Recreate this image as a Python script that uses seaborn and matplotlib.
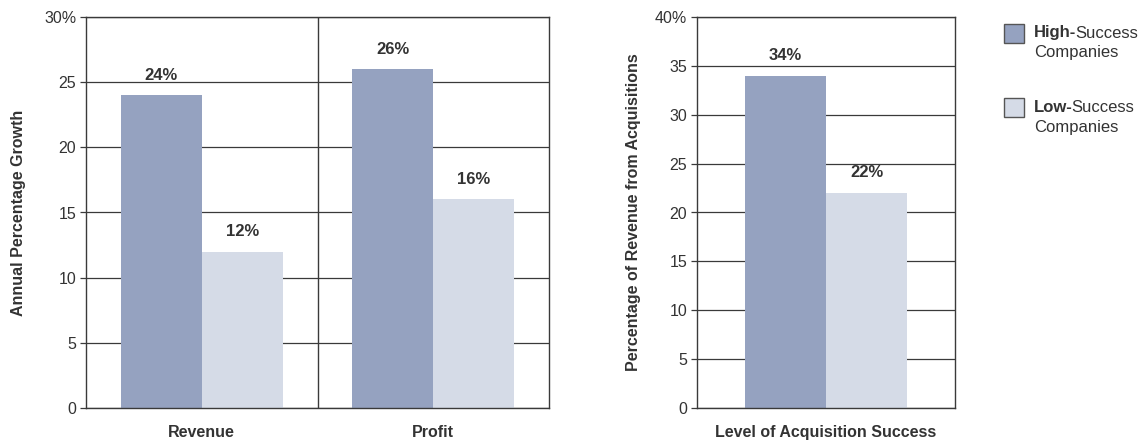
import matplotlib
matplotlib.use("Agg")
import matplotlib.pyplot as plt
import seaborn as sns
import pandas as pd
from matplotlib.patches import Rectangle

# Growth of high- vs low-success acquirers
metrics = ["Revenue", "Profit"]
groups = ["High-Success Companies", "Low-Success Companies"]
high_growth = [24, 26]
low_growth = [12, 16]

# Share of revenue that came from acquisitions
acq_level = ["All"]
high_acq = [34]
low_acq = [22]

growth_ticks = [0, 5, 10, 15, 20, 25, 30]
growth_ticklabels = ["0", "5", "10", "15", "20", "25", "30%"]
acq_ticks = [0, 5, 10, 15, 20, 25, 30, 35, 40]
acq_ticklabels = ["0", "5", "10", "15", "20", "25", "30", "35", "40%"]

HIGH_COLOR = "#95a2c0"
LOW_COLOR = "#d5dbe7"
LINE_COLOR = "#3a3a3a"
TEXT_COLOR = "#333333"

sns.set_theme(style="white")
plt.rcParams["font.family"] = ["Liberation Sans", "DejaVu Sans"]

growth_df = pd.DataFrame({
    "metric": metrics * 2,
    "group": [groups[0]] * len(metrics) + [groups[1]] * len(metrics),
    "value": high_growth + low_growth,
})
acq_df = pd.DataFrame({
    "level": acq_level * 2,
    "group": [groups[0]] * len(acq_level) + [groups[1]] * len(acq_level),
    "value": high_acq + low_acq,
})
palette = {groups[0]: HIGH_COLOR, groups[1]: LOW_COLOR}

fig = plt.figure(figsize=(11.43, 4.44), dpi=100)
ax1 = fig.add_axes([86 / 1143, 1 - 408 / 444, 463 / 1143, 391 / 444])
ax2 = fig.add_axes([697 / 1143, 1 - 408 / 444, 258 / 1143, 391 / 444])


def style_axis(ax, ticks, ticklabels, ymax):
    ax.set_ylim(0, ymax)
    ax.set_yticks(ticks)
    ax.set_yticklabels(ticklabels, fontsize=11.5, color=TEXT_COLOR)
    ax.yaxis.grid(True, color=LINE_COLOR, linewidth=0.9)
    ax.xaxis.grid(False)
    ax.set_axisbelow(True)
    for s in ax.spines.values():
        s.set_visible(True)
        s.set_color(LINE_COLOR)
        s.set_linewidth(1.0)
    ax.tick_params(axis="y", which="both", left=True, length=4, width=0.9,
                   color=LINE_COLOR, pad=3)
    ax.tick_params(axis="x", which="both", bottom=False, length=0, pad=12)


sns.barplot(data=growth_df, x="metric", y="value", hue="group",
            palette=palette, width=0.7, saturation=1, ax=ax1, legend=False)
ax1.set_xlim(-0.5, 1.5)
style_axis(ax1, growth_ticks, growth_ticklabels, 30)
ax1.axvline(0.5, color=LINE_COLOR, linewidth=1.0, zorder=3)
ax1.set_xlabel("")
ax1.set_ylabel("Annual Percentage Growth", fontsize=11.5, fontweight="bold",
               color=TEXT_COLOR, labelpad=13)
ax1.set_xticks(range(len(metrics)))
ax1.set_xticklabels(metrics, fontsize=11.5, fontweight="bold", color=TEXT_COLOR)

sns.barplot(data=acq_df, x="level", y="value", hue="group",
            palette=palette, width=0.628, saturation=1, ax=ax2, legend=False)
ax2.set_xlim(-0.5, 0.5)
style_axis(ax2, acq_ticks, acq_ticklabels, 40)
ax2.set_xticks([0])
ax2.set_xticklabels(["Level of Acquisition Success"], fontsize=11.5,
                    fontweight="bold", color=TEXT_COLOR)
ax2.set_xlabel("")
ax2.set_ylabel("Percentage of Revenue from Acquisitions", fontsize=11.5,
               fontweight="bold", color=TEXT_COLOR, labelpad=10)

for ax in (ax1, ax2):
    for cont in ax.containers:
        for bar in cont:
            bar.set_linewidth(0)
        ax.bar_label(cont, fmt="{:.0f}%", padding=9, fontsize=12,
                     fontweight="bold", color=TEXT_COLOR)

# Legend: swatches with a bold lead word
fig.canvas.draw()
renderer = fig.canvas.get_renderer()
entries = [(HIGH_COLOR, "High-", "Success", 33), (LOW_COLOR, "Low-", "Success", 107)]
for color, bold_word, rest, y_px in entries:
    fig.patches.append(Rectangle((1004 / 1143, 1 - (y_px + 10) / 444), 20 / 1143, 19 / 444,
                                 transform=fig.transFigure, facecolor=color,
                                 edgecolor="#555555", linewidth=1.0))
    t = fig.text(1034 / 1143, 1 - y_px / 444, bold_word, fontsize=12,
                 fontweight="bold", color=TEXT_COLOR, va="center", ha="left")
    bb = t.get_window_extent(renderer)
    fig.text((bb.x1 - 1) / fig.bbox.width, 1 - y_px / 444, rest, fontsize=12,
             color=TEXT_COLOR, va="center", ha="left")
    fig.text(1034 / 1143, 1 - (y_px + 20) / 444, "Companies", fontsize=12,
             color=TEXT_COLOR, va="center", ha="left")

fig.savefig("out.png", dpi=100, facecolor="white")
